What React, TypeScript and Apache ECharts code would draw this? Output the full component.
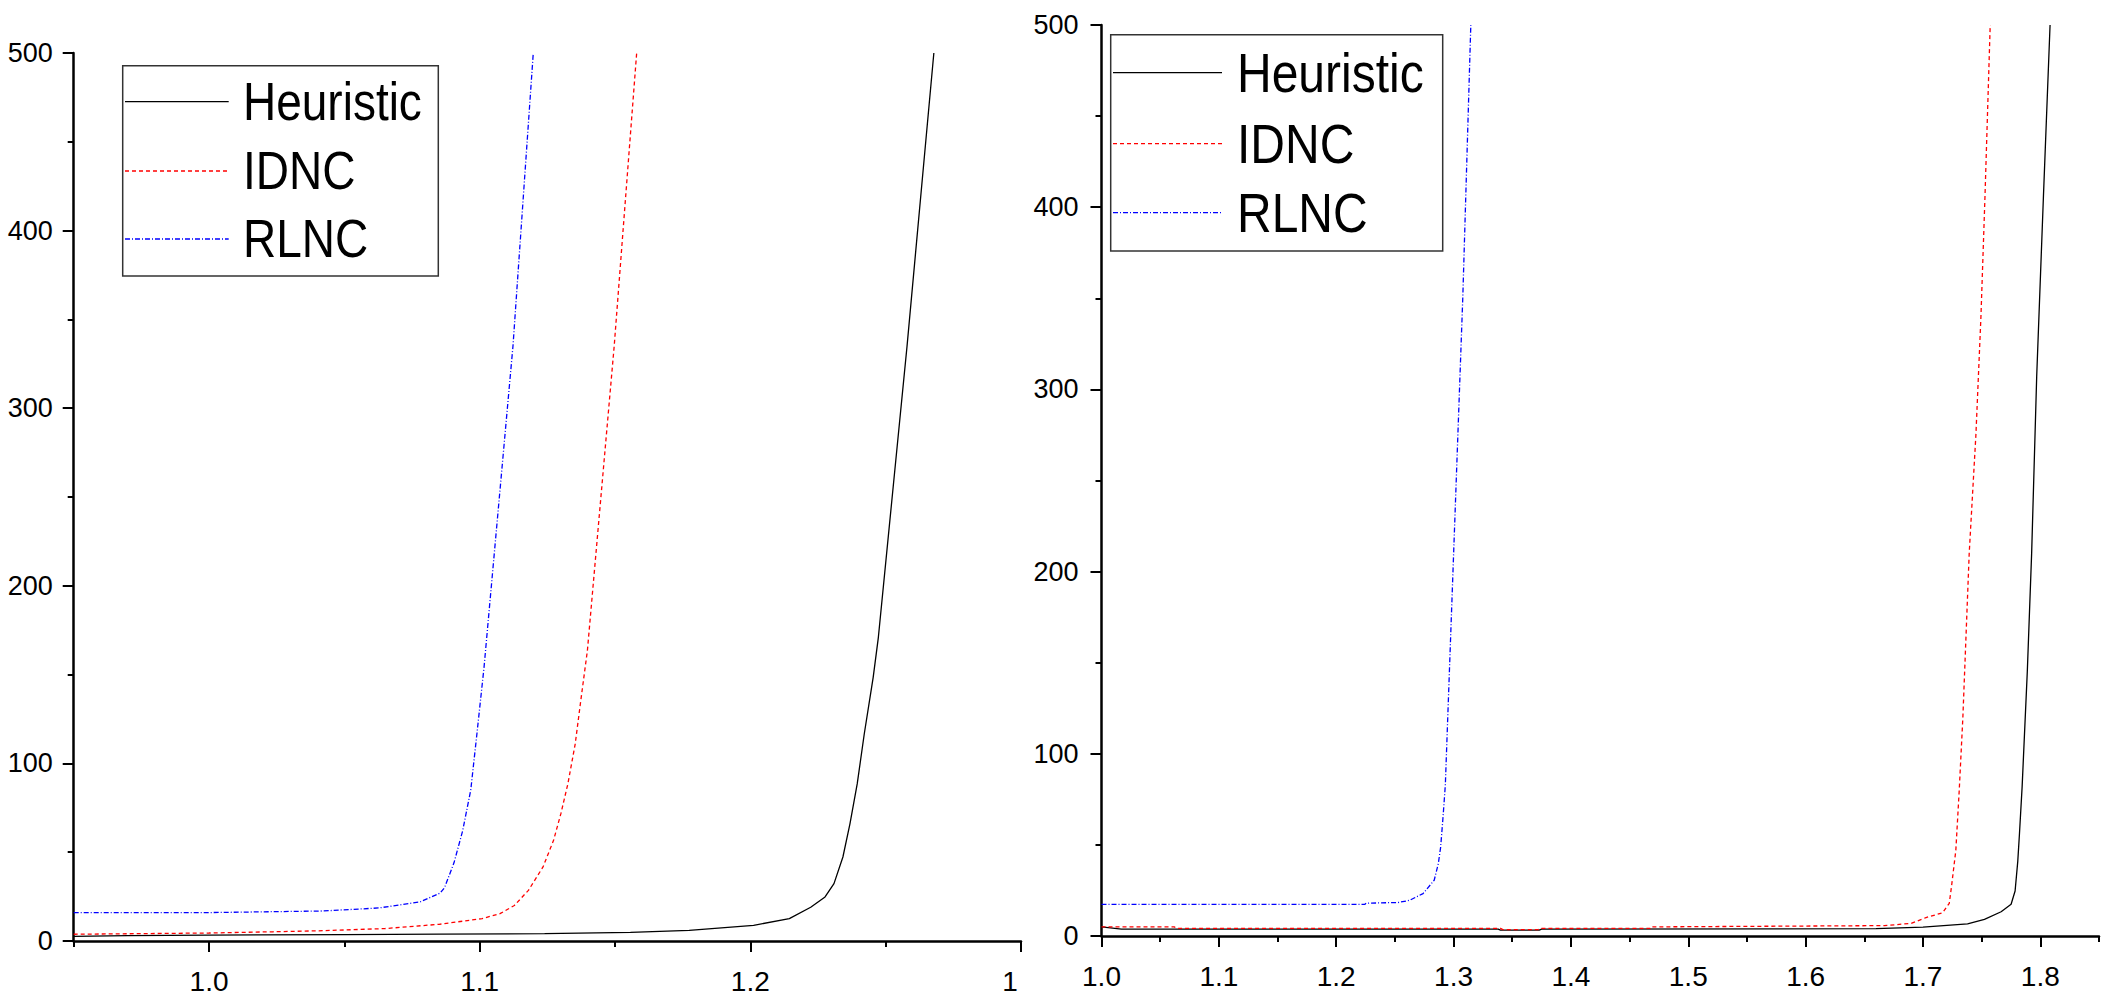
import React, { useEffect, useRef } from "react";
import * as echarts from "echarts";

// ---------- data (x, y) ----------
const leftHeuristic: [number, number][] = [
  [0.95, 2.6], [0.97, 3.0], [1.0, 3.3], [1.05, 3.6], [1.085, 3.9], [1.124, 4.1],
  [1.1557, 4.9], [1.1774, 6], [1.2012, 8.8], [1.2144, 12.6], [1.2223, 19],
  [1.2276, 24.8], [1.2309, 32.3], [1.2342, 47.3], [1.2368, 66], [1.2395, 88.6],
  [1.2421, 116.7], [1.2454, 148.6], [1.2473, 171], [1.2579, 335], [1.2678, 500],
];
const leftIDNC: [number, number][] = [
  [0.95, 3.8], [1.0, 4.5], [1.0236, 5.2], [1.042, 5.8], [1.065, 7], [1.085, 9.4],
  [1.1009, 12.6], [1.1075, 15.4], [1.1128, 20], [1.118, 28.5], [1.1234, 41.7],
  [1.1273, 56.7], [1.13, 71.7], [1.1326, 88.6], [1.1353, 111], [1.1372, 133.6],
  [1.1398, 163.6], [1.1497, 335], [1.158, 500],
];
const leftRLNC: [number, number][] = [
  [0.95, 16], [1.0, 16], [1.042, 16.9], [1.0627, 18.6], [1.078, 22], [1.0854, 27],
  [1.087, 30], [1.0905, 44], [1.0937, 62], [1.0967, 85], [1.099, 117],
  [1.1016, 154], [1.1123, 335], [1.1198, 500],
];

const rightHeuristic: [number, number][] = [
  [1.0, 5], [1.017, 3.8], [1.338, 3.8], [1.34, 3.2], [1.373, 3.2], [1.375, 3.8],
  [1.66, 4], [1.7, 4.9], [1.738, 6.7], [1.7524, 9.1], [1.7666, 13.3], [1.7751, 17.4],
  [1.7785, 24.7], [1.7808, 41.1], [1.7822, 55.8], [1.7845, 82], [1.7889, 145],
  [1.7926, 210], [1.7969, 307], [1.8026, 405], [1.8083, 500],
];
const rightIDNC: [number, number][] = [
  [1.0, 5], [1.062, 5], [1.064, 4.2], [1.34, 4.2], [1.342, 3.5], [1.372, 3.5],
  [1.374, 4.2], [1.4676, 4.2], [1.468, 5], [1.667, 5.7], [1.6898, 6.9],
  [1.7026, 10.1], [1.7168, 12.8], [1.7224, 17.9], [1.7244, 27.6], [1.728, 47],
  [1.7309, 80], [1.734, 120], [1.7394, 210], [1.7451, 275], [1.7494, 340],
  [1.7528, 405], [1.7573, 500],
];
const rightRLNC: [number, number][] = [
  [1.0, 17.4], [1.2245, 17.4], [1.2255, 18], [1.253, 18.4], [1.2626, 19.6],
  [1.274, 23.3], [1.2835, 30.6], [1.287, 39.7], [1.289, 48.8], [1.291, 65],
  [1.293, 83], [1.294, 101], [1.3079, 351], [1.3147, 500],
];

const seriesNames = ["Heuristic", "IDNC", "RLNC"];

const leftMajorTicks = [1.0, 1.1, 1.2, 1.3];
const leftMinorTicks = [0.95, 1.05, 1.15, 1.25];
const rightMajorTicks = [1.0, 1.1, 1.2, 1.3, 1.4, 1.5, 1.6, 1.7, 1.8];
const rightMinorTicks = [1.05, 1.15, 1.25, 1.35, 1.45, 1.55, 1.65, 1.75, 1.85];

// ---------- styles ----------
const FONT = "Liberation Sans";
const COLORS = ["#000000", "#ff0000", "#0000ff"];
const DASHES: (string | number[])[] = ["solid", [4, 3], [5, 2, 1, 2]];

const axisLineStyle = { color: "#000", width: 2.5 };
const tickLineStyle = { color: "#000", width: 2 };

function makeMajorX(grid: number, min: number, max: number, ticks: number[], clipLast: boolean) {
  return {
    type: "value",
    gridIndex: grid,
    min,
    max,
    position: "bottom",
    axisLine: { show: true, onZero: false, lineStyle: axisLineStyle },
    axisTick: { show: true, customValues: ticks, length: 11, lineStyle: tickLineStyle },
    axisLabel: {
      show: true,
      customValues: ticks,
      fontSize: 28,
      fontFamily: FONT,
      color: "#000",
      margin: 26,
      formatter: (v: number) =>
        clipLast && Math.abs(v - max) < 1e-6 ? "{c|1}" : v.toFixed(1),
      rich: { c: { fontSize: 28, fontFamily: FONT, color: "#000", padding: [0, 22, 0, 0] } },
    },
    splitLine: { show: false },
  };
}

function makeMinorX(grid: number, min: number, max: number, ticks: number[]) {
  return {
    type: "value",
    gridIndex: grid,
    min,
    max,
    position: "bottom",
    axisLine: { show: false, onZero: false },
    axisTick: { show: true, customValues: ticks, length: 6, lineStyle: tickLineStyle },
    axisLabel: { show: false },
    splitLine: { show: false },
  };
}

function makeY(grid: number, margin: number) {
  return {
    type: "value",
    gridIndex: grid,
    min: 0,
    max: 500,
    interval: 100,
    axisLine: { show: true, onZero: false, lineStyle: axisLineStyle },
    axisTick: { show: true, length: 11, lineStyle: tickLineStyle },
    minorTick: { show: true, splitNumber: 2, length: 6, lineStyle: tickLineStyle },
    axisLabel: { show: true, fontSize: 27, fontFamily: FONT, color: "#000", margin },
    splitLine: { show: false },
    minorSplitLine: { show: false },
  };
}

function makeSeries(data: [number, number][], idx: number, xAxisIndex: number, yAxisIndex: number) {
  return {
    name: seriesNames[idx],
    type: "line",
    xAxisIndex,
    yAxisIndex,
    data,
    symbol: "none",
    smooth: false,
    lineStyle: { color: COLORS[idx], width: 1.3, type: DASHES[idx] },
    itemStyle: { color: COLORS[idx] },
    z: 3,
  };
}

function legendGraphic(
  box: { x: number; y: number; w: number; h: number },
  lineX1: number,
  lineX2: number,
  rowsY: number[],
  textX: number,
  fontSize: number
) {
  const children: any[] = [
    {
      type: "rect",
      shape: { x: box.x, y: box.y, width: box.w, height: box.h },
      style: { fill: "#ffffff", stroke: "#333333", lineWidth: 1.5 },
      z: 100,
    },
  ];
  seriesNames.forEach((name, i) => {
    const dash = DASHES[i];
    children.push({
      type: "line",
      shape: { x1: lineX1, y1: rowsY[i], x2: lineX2, y2: rowsY[i] },
      style: {
        stroke: COLORS[i],
        lineWidth: 1.3,
        lineDash: Array.isArray(dash) ? dash : null,
      },
      z: 101,
    });
    children.push({
      type: "text",
      x: textX,
      y: rowsY[i],
      scaleY: 1.17,
      style: {
        text: name,
        x: 0,
        y: 0,
        fontSize,
        fontFamily: FONT,
        fill: "#000",
        verticalAlign: "middle",
        align: "left",
      },
      z: 101,
    });
  });
  return { type: "group", children };
}

export default function App() {
  const ref = useRef<HTMLDivElement>(null);

  useEffect(() => {
    if (!ref.current) return;
    const chart = echarts.init(ref.current, undefined, { renderer: "svg" });
    const option: any = {
      animation: false,
      backgroundColor: "#ffffff",
      textStyle: { fontFamily: FONT },
      grid: [
        { left: 73.7, top: 53, width: 947.3, height: 888, containLabel: false },
        { left: 1101.5, top: 25, width: 997.5, height: 911, containLabel: false },
      ],
      xAxis: [
        makeMajorX(0, 0.95, 1.3, leftMajorTicks, true),
        makeMinorX(0, 0.95, 1.3, leftMinorTicks),
        makeMajorX(1, 1.0, 1.85, rightMajorTicks, false),
        makeMinorX(1, 1.0, 1.85, rightMinorTicks),
      ],
      yAxis: [makeY(0, 21), makeY(1, 23)],
      series: [
        makeSeries(leftHeuristic, 0, 0, 0),
        makeSeries(leftIDNC, 1, 0, 0),
        makeSeries(leftRLNC, 2, 0, 0),
        makeSeries(rightHeuristic, 0, 2, 1),
        makeSeries(rightIDNC, 1, 2, 1),
        makeSeries(rightRLNC, 2, 2, 1),
      ],
      graphic: [
        legendGraphic({ x: 122.7, y: 65.7, w: 315.6, h: 210.3 }, 125, 228.7, [101.7, 171, 239], 243, 46),
        legendGraphic({ x: 1110.7, y: 34.7, w: 332, h: 216.3 }, 1113, 1222, [72.7, 143.7, 212.7], 1237, 48),
      ],
    };
    chart.setOption(option);
    return () => chart.dispose();
  }, []);

  return (
    <div
      ref={ref}
      style={{ position: "fixed", left: 0, top: 0, width: 2101, height: 997, background: "#fff" }}
    />
  );
}
